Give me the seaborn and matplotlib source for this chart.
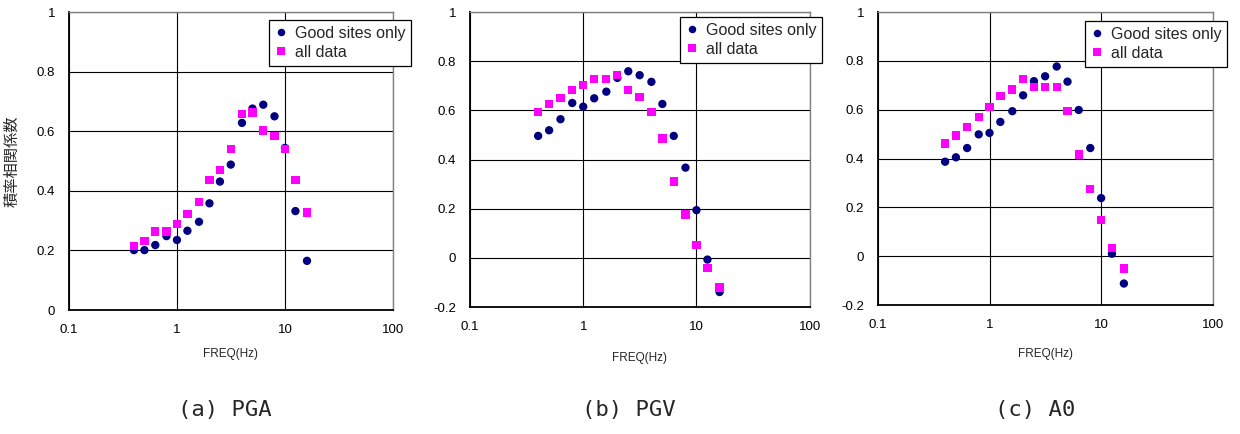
import matplotlib
matplotlib.use("Agg")
import matplotlib.pyplot as plt
import seaborn as sns
import pandas as pd
from matplotlib.ticker import FixedLocator, FixedFormatter, NullLocator

sns.set_theme(style="white")
plt.rcParams['font.family'] = ['Liberation Sans', 'Noto Sans CJK JP', 'DejaVu Sans']

# 1/3-octave centre frequencies (Hz)
freq = [0.4, 0.5, 0.63, 0.8, 1.0, 1.25, 1.6, 2.0, 2.5, 3.15, 4.0, 5.0, 6.3, 8.0, 10.0, 12.5, 16.0]

# correlation coefficients per frequency
pga_good = [0.201, 0.201, 0.218, 0.248, 0.235, 0.266, 0.296, 0.358, 0.431, 0.488,
            0.628, 0.676, 0.689, 0.650, 0.544, 0.332, 0.165]
pga_all = [0.215, 0.232, 0.263, 0.263, 0.288, 0.323, 0.362, 0.436, 0.470, 0.541,
           0.658, 0.663, 0.602, 0.585, 0.541, 0.436, 0.327]

pgv_good = [0.496, 0.519, 0.564, 0.630, 0.615, 0.649, 0.676, 0.732, 0.759, 0.743,
            0.716, 0.626, 0.496, 0.367, 0.194, -0.007, -0.139]
pgv_all = [0.592, 0.626, 0.649, 0.682, 0.703, 0.727, 0.727, 0.744, 0.683, 0.653,
           0.592, 0.485, 0.311, 0.177, 0.053, -0.041, -0.120]

a0_good = [0.387, 0.405, 0.443, 0.499, 0.505, 0.550, 0.594, 0.659, 0.717, 0.737,
           0.777, 0.715, 0.599, 0.443, 0.238, 0.010, -0.112]
a0_all = [0.461, 0.494, 0.528, 0.570, 0.610, 0.655, 0.683, 0.726, 0.694, 0.694,
          0.694, 0.594, 0.416, 0.276, 0.149, 0.033, -0.051]

series_names = ["Good sites only", "all data"]
panel_titles = ["(a) PGA", "(b) PGV", "(c) A0"]
x_ticks = [0.1, 1, 10, 100]
x_tick_labels = ["0.1", "1", "10", "100"]
ylabel = "積率相関係数"
xlabel = "FREQ(Hz)"

fig = plt.figure(figsize=(12.4, 4.34), dpi=100)

panels = [
    dict(rect=[0.0556, 0.2857, 0.2613, 0.6866], good=pga_good, all=pga_all,
         ylim=(0, 1), yticks=[0, 0.2, 0.4, 0.6, 0.8, 1.0],
         ylabels=["0", "0.2", "0.4", "0.6", "0.8", "1"], leg=(0.617, 0.972),
         xpad=9, tx=0.181),
    dict(rect=[0.379, 0.2926, 0.274, 0.6797], good=pgv_good, all=pgv_all,
         ylim=(-0.2, 1), yticks=[-0.2, 0, 0.2, 0.4, 0.6, 0.8, 1.0],
         ylabels=["-0.2", "0", "0.2", "0.4", "0.6", "0.8", "1"], leg=(0.618, 0.982),
         xpad=14, tx=0.507),
    dict(rect=[0.708, 0.2972, 0.270, 0.675], good=a0_good, all=a0_all,
         ylim=(-0.2, 1), yticks=[-0.2, 0, 0.2, 0.4, 0.6, 0.8, 1.0],
         ylabels=["-0.2", "0", "0.2", "0.4", "0.6", "0.8", "1"], leg=(0.618, 0.968),
         xpad=12, tx=0.835),
]

for i, p in enumerate(panels):
    ax = fig.add_axes(p["rect"])
    df = pd.DataFrame({
        "freq": freq * 2,
        "r": p["good"] + p["all"],
        "series": [series_names[0]] * len(freq) + [series_names[1]] * len(freq),
    })
    sns.scatterplot(data=df, x="freq", y="r", hue="series", style="series",
                    palette={series_names[0]: "#000080", series_names[1]: "#FF00FF"},
                    markers={series_names[0]: "o", series_names[1]: "s"},
                    hue_order=series_names[::-1], style_order=series_names[::-1],
                    s=36, linewidth=0, ax=ax, zorder=3, legend=True)
    ax.set_xscale("log")
    ax.set_xlim(0.1, 100)
    ax.set_ylim(*p["ylim"])
    ax.xaxis.set_major_locator(FixedLocator(x_ticks))
    ax.xaxis.set_major_formatter(FixedFormatter(x_tick_labels))
    ax.xaxis.set_minor_locator(NullLocator())
    ax.yaxis.set_major_locator(FixedLocator(p["yticks"]))
    ax.yaxis.set_major_formatter(FixedFormatter(p["ylabels"]))
    ax.grid(True, which="major", color="black", linewidth=0.8, zorder=0)
    ax.set_axisbelow(True)
    for side in ("left", "bottom"):
        ax.spines[side].set_color("black")
        ax.spines[side].set_linewidth(1.3)
    for side in ("right", "top"):
        ax.spines[side].set_color("#808080")
        ax.spines[side].set_linewidth(1.0)
    ax.tick_params(axis="both", labelsize=9.5, colors="black", length=3,
                   width=0.8, direction="out", pad=7)
    ax.tick_params(axis="x", length=0, pad=10)
    ax.set_xlabel(xlabel, fontsize=8.5, labelpad=p["xpad"])
    if i == 0:
        ax.set_ylabel(ylabel, fontsize=11, family=['Noto Sans CJK JP', 'DejaVu Sans'])
        ax.yaxis.set_label_coords(-0.15, 0.5)
    else:
        ax.set_ylabel("")

    handles, labels = ax.get_legend_handles_labels()
    order = [labels.index(n) for n in series_names]
    leg = ax.legend([handles[k] for k in order], [labels[k] for k in order],
                    loc="upper left", bbox_to_anchor=p["leg"], fontsize=11.5,
                    frameon=True, fancybox=False, framealpha=1, edgecolor="black",
                    handlelength=0.8, handletextpad=0.5, borderpad=0.35,
                    labelspacing=0.25, markerscale=0.9, borderaxespad=0)
    leg.get_frame().set_linewidth(0.9)
    leg.set_zorder(5)

    fig.text(p["tx"], (434 - 410) / 434, panel_titles[i], ha="center", va="center",
             fontsize=16, family=['DejaVu Sans Mono'])

fig.savefig("out.png", dpi=100)
